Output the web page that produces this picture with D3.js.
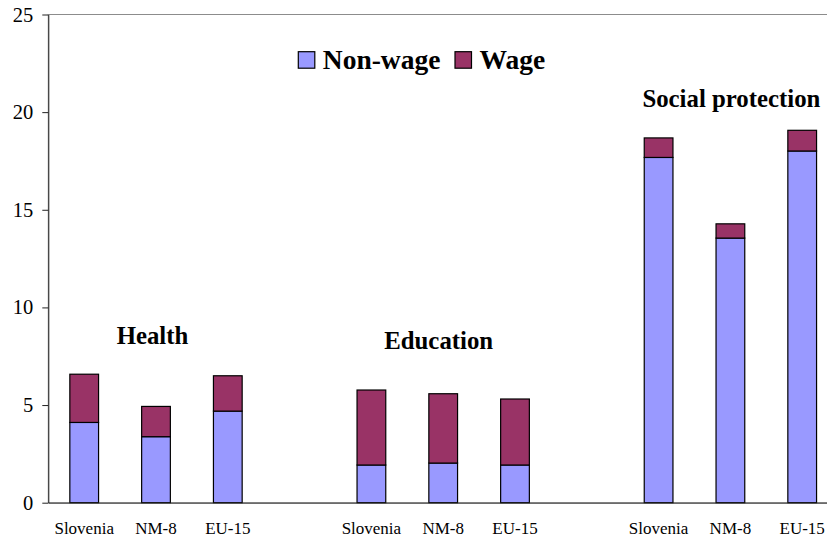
<!DOCTYPE html>
<html>
<head>
<meta charset="utf-8">
<script src="https://cdn.jsdelivr.net/npm/d3@7"></script>
<style>
  html, body { margin: 0; padding: 0; background: #fff; }
  svg { display: block; }
</style>
</head>
<body>
<svg id="chart" width="827" height="538"></svg>
<script>
// Spending categories and the three country groupings in each
const groups = ["Health", "Education", "Social protection"];
const countries = ["Slovenia", "NM-8", "EU-15"];
const seriesNames = ["Non-wage", "Wage"];

// Spending, % of GDP (rows follow `groups`, columns follow `countries`)
const nonWage = [
  [4.11, 3.38, 4.69],
  [1.93, 2.03, 1.93],
  [17.68, 13.55, 18.01]
];
const wage = [
  [2.47, 1.55, 1.81],
  [3.84, 3.55, 3.38],
  [1.00, 0.73, 1.06]
];
const yTicks = [0, 5, 10, 15, 20, 25];

const colors = { "Non-wage": "#9999FF", "Wage": "#993366" };
const serif = '"Liberation Serif", "Times New Roman", serif';

// Flatten into slots, leaving an empty slot between groups
const slots = [];
const rows = [];
groups.forEach((g, gi) => {
  countries.forEach((c, ci) => {
    const key = g + "|" + c;
    slots.push(key);
    rows.push({ key, group: g, country: c, "Non-wage": nonWage[gi][ci], "Wage": wage[gi][ci] });
  });
  if (gi < groups.length - 1) slots.push("gap" + gi);
});

const svg = d3.select("#chart");
const plotLeft = 48.3, plotTop = 14.5, plotBottom = 502.7, plotRight = 838.1;

const x = d3.scaleBand().domain(slots).range([plotLeft, plotRight])
  .paddingInner(0.6).paddingOuter(0.3);
const y = d3.scaleLinear().domain([0, 25]).range([plotBottom, plotTop]);

// Plot area frame (right side runs off the page)
svg.append("rect")
  .attr("x", plotLeft).attr("y", plotTop)
  .attr("width", plotRight - plotLeft).attr("height", plotBottom - plotTop)
  .attr("fill", "none").attr("stroke", "#8c8c8c").attr("stroke-width", 1);

// Stacked bars
const stack = d3.stack().keys(seriesNames);
const layers = stack(rows);
svg.append("g").selectAll("g")
  .data(layers)
  .join("g")
  .attr("fill", d => colors[d.key])
  .selectAll("rect")
  .data(d => d)
  .join("rect")
  .attr("x", d => x(d.data.key))
  .attr("width", x.bandwidth())
  .attr("y", d => y(d[1]))
  .attr("height", d => y(d[0]) - y(d[1]))
  .attr("stroke", "#000")
  .attr("stroke-width", 1.2);

// Y axis
const yAxis = svg.append("g")
  .attr("transform", `translate(${plotLeft},0)`)
  .call(d3.axisLeft(y).tickValues(yTicks).tickSizeInner(6).tickSizeOuter(0).tickPadding(9));
yAxis.attr("font-family", serif).attr("font-size", 20.5);
yAxis.selectAll("text").attr("fill", "#000");
yAxis.selectAll("line, path").attr("stroke", "#222");

// X baseline
const xAxis = svg.append("g")
  .attr("transform", `translate(0,${plotBottom})`)
  .call(d3.axisBottom(x).tickSize(0).tickFormat(""));
xAxis.select("path").attr("stroke", "#333");
xAxis.selectAll(".tick").remove();

// Country labels under each bar
svg.append("g").selectAll("text")
  .data(rows)
  .join("text")
  .attr("x", d => x(d.key) + x.bandwidth() / 2)
  .attr("y", 534)
  .attr("text-anchor", "middle")
  .attr("font-family", serif)
  .attr("font-size", 17)
  .text(d => d.country);

// Group titles above each cluster
const titleY = { "Health": 344, "Education": 349, "Social protection": 107 };
const titleDx = { "Health": -3.5, "Education": -4.5, "Social protection": 1 };
svg.append("g").selectAll("text")
  .data(groups)
  .join("text")
  .attr("x", g => x(g + "|" + countries[1]) + x.bandwidth() / 2 + titleDx[g])
  .attr("y", g => titleY[g])
  .attr("text-anchor", "middle")
  .attr("font-family", serif)
  .attr("font-size", 24.8)
  .attr("font-weight", "bold")
  .text(g => g);

// Legend
const legendItems = [
  { name: "Non-wage", x: 298.3 },
  { name: "Wage", x: 455 }
];
const legend = svg.append("g");
legendItems.forEach(it => {
  legend.append("rect")
    .attr("x", it.x).attr("y", 51.7)
    .attr("width", 16.5).attr("height", 16.5)
    .attr("fill", colors[it.name]).attr("stroke", "#000").attr("stroke-width", 1.2);
  legend.append("text")
    .attr("x", it.x + 24.5).attr("y", 68.5)
    .attr("font-family", serif)
    .attr("font-size", 27.5).attr("font-weight", "bold")
    .text(it.name);
});
</script>
</body>
</html>
